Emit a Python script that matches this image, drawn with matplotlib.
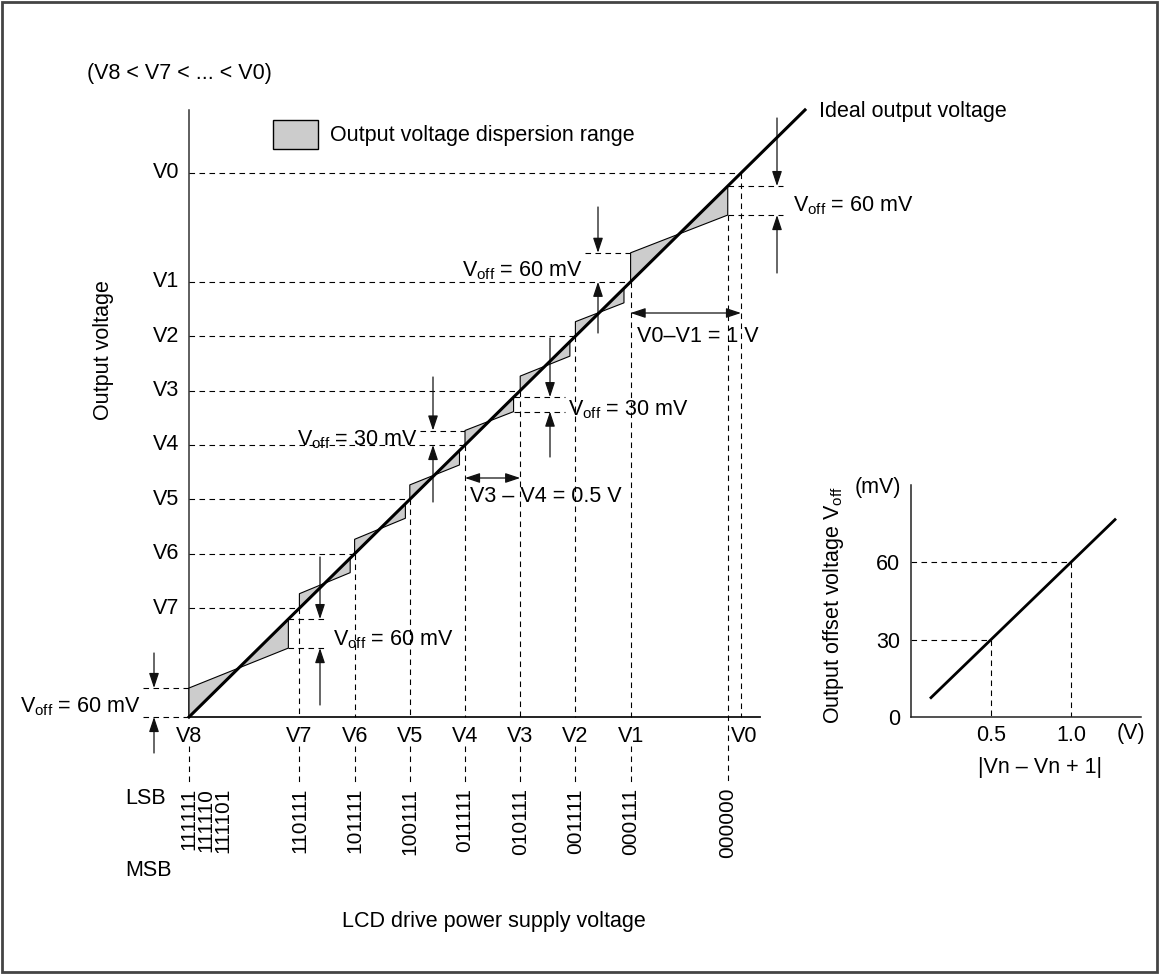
import matplotlib
matplotlib.use('Agg')
import matplotlib.pyplot as plt
from matplotlib.patches import Polygon, Rectangle

plt.rcParams['font.family'] = ['Liberation Sans', 'DejaVu Sans']
plt.rcParams['mathtext.fontset'] = 'custom'
plt.rcParams['mathtext.rm'] = 'Liberation Sans'
plt.rcParams['mathtext.it'] = 'Liberation Sans:italic'

# ---- data ----
level_names = ['V8', 'V7', 'V6', 'V5', 'V4', 'V3', 'V2', 'V1', 'V0']
level_volts = [0.0, 1.0, 1.5, 2.0, 2.5, 3.0, 3.5, 4.0, 5.0]     # output voltage levels (V)
seg_end = [0.90, 1.46, 1.96, 2.45, 2.94, 3.45, 3.94, 4.88]       # end of each code range (supply axis)
codes = ['111111', '110111', '101111', '100111', '011111', '010111', '001111', '000111', '000000']
code_pos = [0.0, 1.0, 1.5, 2.0, 2.5, 3.0, 3.5, 4.0, 4.88]
extra_codes = ['111110', '111101']
mv_per_volt = 60.0            # Voff = 60 mV per 1 V step

inset_x = [0.125, 1.275]      # |Vn - Vn+1| (V)
inset_y = [7.5, 76.5]         # Voff (mV)
inset_ref_x = [0.5, 1.0]
inset_ref_y = [30, 60]

# ---- layout (pixels of the 1164x975 picture) ----
W, H = 1164, 975
X0, Y0 = 189, 717
XPX, YPX = 110.4, 108.8
mv_unit = 29.0 / YPX / 60.0   # drawn height of 1 mV (exaggerated)


def ux(px):
    return (px - X0) / XPX


def uy(py):
    return (Y0 - py) / YPX


fig = plt.figure(figsize=(W / 100, H / 100), dpi=100)
ax = fig.add_axes([0, 0, 1, 1])
ax.set_xlim(ux(0), ux(W))
ax.set_ylim(uy(H), uy(0))
ax.axis('off')

dash = dict(color='k', lw=0.8, ls=(0, (5, 4)))
fs = 15.5


def arrow(x, y_from, y_to, style='-|>'):
    ax.annotate('', xy=(x, y_to), xytext=(x, y_from),
                arrowprops=dict(arrowstyle=style + ',head_length=0.9,head_width=0.3',
                                color='#111', lw=0.9, shrinkA=0, shrinkB=0,
                                mutation_scale=10))


def harrow(y, x_from, x_to):
    ax.annotate('', xy=(x_to, y), xytext=(x_from, y),
                arrowprops=dict(arrowstyle='<|-|>,head_length=0.9,head_width=0.3',
                                color='#111', lw=0.9, shrinkA=0, shrinkB=0,
                                mutation_scale=10))


# frame
fig.patches.append(Rectangle((2 / W, 3 / H), 1155 / W, 970 / H, transform=fig.transFigure,
                             fill=False, edgecolor='#444', lw=2))

# axes of main diagram
ax.plot([0, 0], [0, uy(110)], color='#333', lw=1.1)
ax.plot([0, ux(760)], [0, 0], color='#111', lw=1.3)

# level dashed lines
for name, v in zip(level_names[1:], level_volts[1:]):
    ax.plot([0, v], [v, v], **dash)
    ax.plot([v, v], [v, 0], **dash)
    ax.text(ux(179), v, name, ha='right', va='center', fontsize=fs)

for name, v in zip(level_names, level_volts):
    ax.text(v + (ux(744) - 5.0 if name == 'V0' else 0), uy(736), name,
            ha='center', va='center', fontsize=fs)

# dispersion polygons
offsets = []
for i in range(8):
    xa, xb = level_volts[i], seg_end[i]
    step = level_volts[i + 1] - level_volts[i]
    off = step * mv_per_volt * mv_unit
    offsets.append(off)
    ax.add_patch(Polygon([(xa, xa), (xa, xa + off), (xb, xb - off), (xb, xb)],
                         closed=True, facecolor='#cccccc', edgecolor='k', lw=0.8, zorder=3))

# ideal output voltage
ax.plot([0, ux(805)], [0, ux(805)], color='k', lw=2.2, zorder=4)
ax.text(ux(819), uy(112), 'Ideal output voltage', ha='left', va='center', fontsize=fs)

# codes below the axis
for c, x in zip(codes, code_pos):
    top = x - offsets[-1] if c == '000000' else uy(746)
    ax.plot([x, x], [top, uy(782)], **dash)
    ax.text(x, uy(788), c, rotation=90, ha='center', va='top', fontsize=15)
for c, px in zip(extra_codes, [206, 223]):
    ax.text(ux(px), uy(788), c, rotation=90, ha='center', va='top', fontsize=15)
ax.text(ux(166), uy(798), 'LSB', ha='right', va='center', fontsize=fs)
ax.text(ux(172), uy(870), 'MSB', ha='right', va='center', fontsize=fs)
ax.text(ux(494), uy(921), 'LCD drive power supply voltage', ha='center', va='center', fontsize=fs)

ax.text(ux(87), uy(73), '(V8 < V7 < ... < V0)', ha='left', va='center', fontsize=fs)
ax.text(ux(103), uy(350), 'Output voltage', rotation=90, ha='center', va='center', fontsize=fs)

# legend
ax.add_patch(Rectangle((ux(273), uy(149)), 45 / XPX, 29 / YPX,
                       facecolor='#cccccc', edgecolor='k', lw=1))
ax.text(ux(330), uy(135), 'Output voltage dispersion range', ha='left', va='center', fontsize=fs)


# Voff markers
def voff_label(x, y, mv, ha):
    ax.text(x, y, r'V$_{\rm off}$' + ' = %d mV' % mv, ha=ha, va='baseline', fontsize=fs)


# at V8 (start of first step)
o = offsets[0]
ax.plot([ux(143), 0], [o, o], **dash)
ax.plot([ux(143), 0], [0, 0], **dash)
arrow(ux(154), uy(653), o)
arrow(ux(154), uy(753), 0)
voff_label(ux(140), uy(712), 60, 'right')

# at end of V8-V7 step
xb, o = seg_end[0], offsets[0]
ax.plot([xb, ux(328)], [xb, xb], **dash)
ax.plot([xb, ux(328)], [xb - o, xb - o], **dash)
arrow(ux(320), uy(557), xb)
arrow(ux(320), uy(705), xb - o)
voff_label(ux(333), uy(645), 60, 'left')

# at V4 (start of V4-V3 step)
xa, o = level_volts[4], offsets[4]
ax.plot([ux(420), xa], [xa + o, xa + o], **dash)
arrow(ux(433), uy(377), xa + o)
arrow(ux(433), uy(502), xa)
voff_label(ux(417), uy(445), 30, 'right')

# at end of V4-V3 step
xb, o = seg_end[4], offsets[4]
ax.plot([xb, ux(565)], [xb, xb], **dash)
ax.plot([xb, ux(565)], [xb - o, xb - o], **dash)
arrow(ux(550), uy(338), xb)
arrow(ux(550), uy(457), xb - o)
voff_label(ux(568), uy(415), 30, 'left')

# at V1 (start of V1-V0 step)
xa, o = level_volts[7], offsets[7]
ax.plot([ux(585), xa], [xa + o, xa + o], **dash)
arrow(ux(598), uy(207), xa + o)
arrow(ux(598), uy(333), xa)
voff_label(ux(582), uy(276), 60, 'right')

# at end of V1-V0 step
xb, o = seg_end[7], offsets[7]
ax.plot([xb, ux(783)], [xb, xb], **dash)
ax.plot([xb, ux(783)], [xb - o, xb - o], **dash)
arrow(ux(777), uy(118), xb)
arrow(ux(777), uy(273), xb - o)
voff_label(ux(793), uy(211), 60, 'left')

# step width arrows
harrow(uy(313), level_volts[7], level_volts[8])
ax.text(ux(637), uy(337), 'V0\u2013V1 = 1 V', ha='left', va='center', fontsize=fs)
harrow(uy(478), level_volts[4], level_volts[5])
ax.text(ux(470), uy(497), 'V3 \u2013 V4 = 0.5 V', ha='left', va='center', fontsize=fs)

# ---- inset: Voff vs step ----
ax2 = fig.add_axes([911 / W, (H - 717) / H, 230 / W, 232 / H])
ax2.set_facecolor('none')
ax2.set_xlim(0, 230 / 160)
ax2.set_ylim(0, 232 / 2.58)
for s in ['top', 'right']:
    ax2.spines[s].set_visible(False)
for s in ['left', 'bottom']:
    ax2.spines[s].set_color('#222')
    ax2.spines[s].set_linewidth(1.1)
ax2.set_xticks(inset_ref_x)
ax2.set_xticklabels(['%.1f' % v for v in inset_ref_x])
ax2.set_yticks([0] + inset_ref_y)
ax2.tick_params(length=0, labelsize=fs)
ax2.tick_params(axis='x', pad=6)
ax2.tick_params(axis='y', pad=8)
for rx, ry in zip(inset_ref_x, inset_ref_y):
    ax2.plot([0, rx, rx], [ry, ry, 0], **dash)
ax2.plot(inset_x, inset_y, color='k', lw=2)

ax.text(ux(878), uy(487), '(mV)', ha='center', va='center', fontsize=fs)
ax.text(ux(1131), uy(733), '(V)', ha='center', va='center', fontsize=fs)
ax.text(ux(1040), uy(767), '|Vn \u2013 Vn + 1|', ha='center', va='center', fontsize=fs)
ax.text(ux(833), uy(605), r'Output offset voltage V$_{\rm off}$', rotation=90,
        ha='center', va='center', fontsize=fs)

fig.savefig('out.png', dpi=100)
